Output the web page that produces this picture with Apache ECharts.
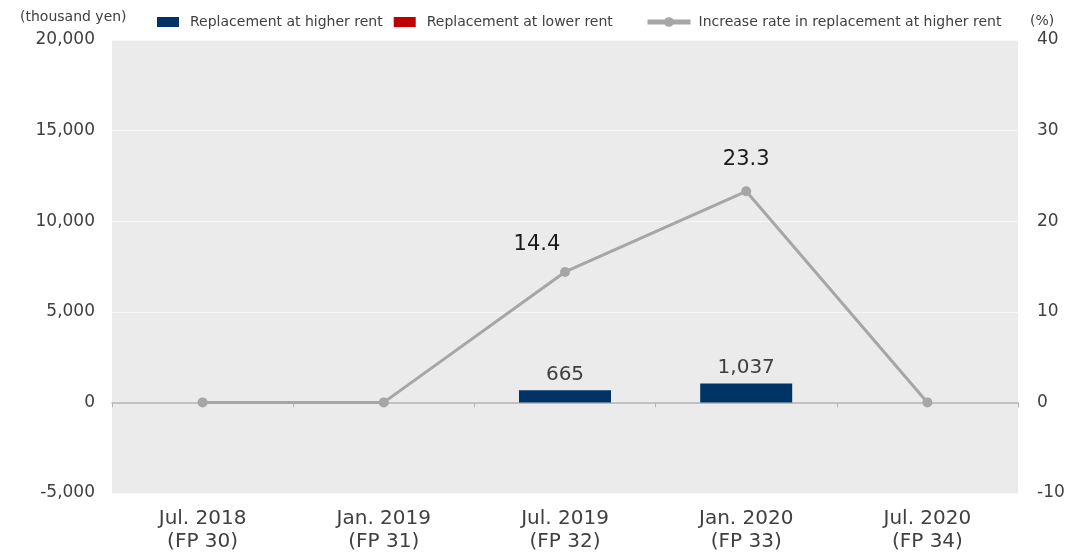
<!DOCTYPE html>
<html>
<head>
<meta charset="utf-8">
<script src="https://cdn.jsdelivr.net/npm/echarts@6/dist/echarts.min.js"></script>
<style>
  html, body { margin: 0; padding: 0; background: #fff; }
  #main { width: 1076px; height: 556px; }
</style>
</head>
<body>
<div id="main"></div>
<script>
var periods = ['Jul. 2018\n(FP 30)', 'Jan. 2019\n(FP 31)', 'Jul. 2019\n(FP 32)', 'Jan. 2020\n(FP 33)', 'Jul. 2020\n(FP 34)'];
var higherRent = [0, 0, 665, 1037, 0];   // thousand yen
var lowerRent = [0, 0, 0, 0, 0];
var increaseRate = [0, 0, 14.4, 23.3, 0]; // %

var FONT = 'DejaVu Sans';
var myChart = echarts.init(document.getElementById('main'));

// 14.4 label sits a bit left of its point in the original
var rateData = increaseRate.map(function (v, i) {
    if (i === 2) return { value: v, label: { offset: [-28, 4] } };
    return v;
});

myChart.setOption({
    textStyle: { fontFamily: FONT },
    animation: false,
    grid: {
        left: 112, right: 58, top: 40, bottom: 63,
        show: true, backgroundColor: '#ebebeb', borderWidth: 0
    },
    graphic: [
        { type: 'text', left: 20, top: 10, style: { text: '(thousand yen)', font: '14px ' + FONT, fill: '#404040' } },
        { type: 'text', left: 1030, top: 14, style: { text: '(%)', font: '14px ' + FONT, fill: '#404040' } }
    ],
    legend: [
        {
            left: 152, top: 10, itemWidth: 22, itemHeight: 10, itemGap: 11, icon: 'rect',
            data: ['Replacement at higher rent', 'Replacement at lower rent'],
            textStyle: { fontSize: 14, color: '#404040', fontFamily: FONT, padding: [0, 0, 0, 6] }
        },
        {
            left: 640, top: 10, itemWidth: 43, itemHeight: 12,
            data: ['Increase rate in replacement at higher rent'],
            lineStyle: { width: 5 },
            textStyle: { fontSize: 14, color: '#404040', fontFamily: FONT, padding: [0, 0, 0, 3] }
        }
    ],
    xAxis: [
        {
            type: 'category', data: periods, position: 'bottom',
            axisLine: { show: false }, axisTick: { show: false },
            axisLabel: { fontSize: 20, color: '#404040', lineHeight: 23, margin: 14, fontFamily: FONT }
        },
        {
            type: 'category', data: periods, position: 'bottom',
            axisLine: { show: true, onZero: true, lineStyle: { color: '#b3b3b3', width: 1.5 } },
            axisTick: { show: true, length: 5, lineStyle: { color: '#b3b3b3' } },
            axisLabel: { show: false }
        }
    ],
    yAxis: [
        {
            type: 'value', min: -5000, max: 20000, interval: 5000,
            axisLine: { show: false }, axisTick: { show: false },
            splitLine: { lineStyle: { color: '#f7f7f7', width: 1 } },
            axisLabel: {
                fontSize: 17, color: '#404040', margin: 17, fontFamily: FONT,
                formatter: function (v) { return v.toLocaleString('en-US'); }
            }
        },
        {
            type: 'value', min: -10, max: 40, interval: 10,
            axisLine: { show: false }, axisTick: { show: false },
            splitLine: { show: false },
            axisLabel: { fontSize: 17, color: '#404040', margin: 19, fontFamily: FONT }
        }
    ],
    series: [
        {
            name: 'Replacement at higher rent', type: 'bar',
            xAxisIndex: 0, yAxisIndex: 0,
            data: higherRent, barWidth: 92, barGap: '-100%',
            itemStyle: { color: '#003366' },
            label: {
                show: true, position: 'top', distance: 6,
                fontSize: 20, color: '#404040', fontFamily: FONT,
                formatter: function (p) { return p.value ? p.value.toLocaleString('en-US') : ''; }
            }
        },
        {
            name: 'Replacement at lower rent', type: 'bar',
            xAxisIndex: 0, yAxisIndex: 0,
            data: lowerRent, barWidth: 92,
            itemStyle: { color: '#c00000' }
        },
        {
            name: 'Increase rate in replacement at higher rent', type: 'line',
            xAxisIndex: 0, yAxisIndex: 1,
            data: rateData, symbol: 'circle', symbolSize: 10,
            lineStyle: { color: '#a6a6a6', width: 3 },
            itemStyle: { color: '#a6a6a6' },
            label: {
                show: true, position: 'top', distance: 16,
                fontSize: 21, color: '#1a1a1a', fontFamily: FONT,
                formatter: function (p) { return p.value ? p.value.toFixed(1) : ''; }
            },
            z: 5
        }
    ]
});
</script>
</body>
</html>
